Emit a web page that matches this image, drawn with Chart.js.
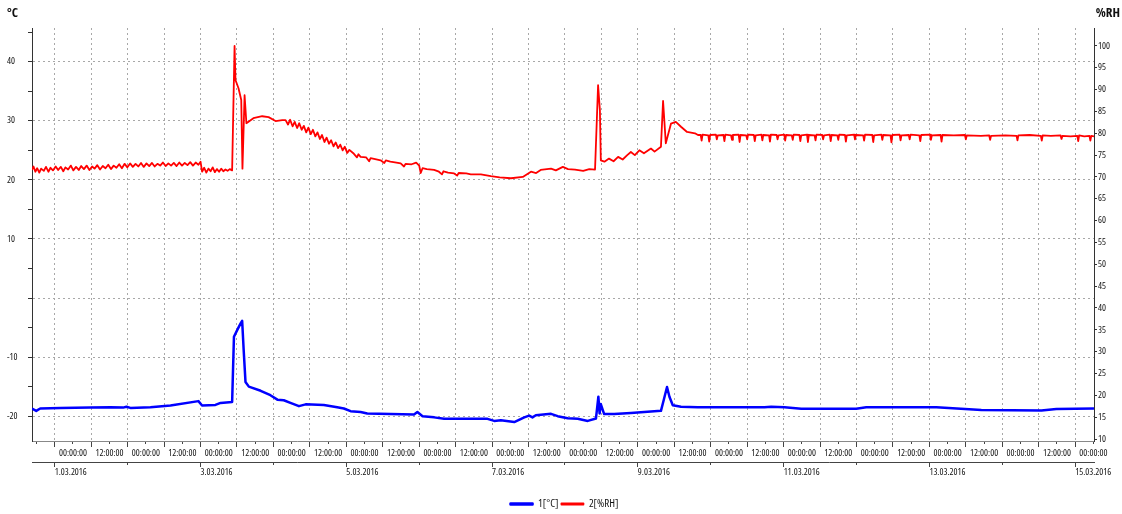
<!DOCTYPE html>
<html>
<head>
<meta charset="utf-8">
<script src="https://cdn.jsdelivr.net/npm/chart.js@4.4.0/dist/chart.umd.min.js"></script>
<style>
  html, body { margin: 0; padding: 0; background: #fff; }
  canvas { display: block; }
</style>
</head>
<body>
<canvas id="logChart" width="1122" height="514"></canvas>
<script>
// Open Sans is a variable font here, so "condensed" gives a narrow face close to the logger's Arial Narrow
const FONT = "'Open Sans', 'Liberation Sans', sans-serif";

// hours counted from 1.03.2016 00:00:00
const tempHours = [-7.5, -6.1, -4.8, 1.8, 11.7, 18.3, 22.5, 23.6, 24.9, 31.5, 38.1, 47.3, 48.5, 52.9, 54.6, 58.4,
  59.0, 60.1, 61.2, 61.7, 62.2, 62.8, 63.9, 67.8, 71.0, 73.3, 75.4, 77.6, 80.4, 82.6, 88.6, 93.0, 95.2, 97.4,
  100.7, 102.9, 118.3, 119.4, 121.1, 124.9, 128.2, 142.5, 144.7, 146.9, 151.3, 154.6, 156.2, 157.3, 158.4,
  163.4, 165.6, 168.9, 172.2, 175.5, 178.2, 179.0, 179.4, 179.8, 180.9, 184.2, 189.7, 199.6, 200.5, 201.6,
  202.4, 203.5, 206.2, 211.7, 233.7, 235.9, 240.3, 245.8, 263.9, 267.2, 290.3, 305.1, 324.9, 329.8, 342.2];
const tempValues = [-18.7, -19.1, -18.7, -18.6, -18.55, -18.5, -18.55, -18.4, -18.6, -18.5, -18.2, -17.45, -18.2, -18.1, -17.75, -17.6,
  -6.55, -5.4, -4.3, -3.85, -8.8, -14.2, -15.0, -15.7, -16.45, -17.2, -17.3, -17.75, -18.3, -18.0, -18.1, -18.5, -18.7, -19.15,
  -19.3, -19.55, -19.7, -19.3, -20.0, -20.2, -20.45, -20.45, -20.8, -20.7, -21.0, -20.2, -19.9, -20.2, -19.85,
  -19.6, -20.0, -20.35, -20.45, -20.8, -20.4, -16.7, -19.55, -17.95, -19.65, -19.65, -19.45, -19.1, -17.3, -15.05,
  -16.7, -18.15, -18.4, -18.5, -18.5, -18.4, -18.5, -18.75, -18.75, -18.5, -18.5, -18.95, -19.05, -18.8, -18.7];

const rhHours = [-7.5, -7.0, -6.4, -5.8, -5.1, -4.5, -3.6, -2.9, -2.1, -1.4, -0.6, 0.3, 1.1, 2.0, 2.8, 3.5, 4.4, 5.3,
  6.1, 7.0, 7.9, 8.7, 9.6, 10.5, 11.4, 12.3, 13.1, 14.0, 14.9, 15.8, 16.7, 17.6, 18.5, 19.4, 20.3, 21.2, 22.1, 23.0,
  23.9, 24.8, 25.7, 26.6, 27.5, 28.4, 29.3, 30.2, 31.1, 32.0, 32.9, 33.8, 34.7, 35.6, 36.5, 37.4, 38.3, 39.2, 40.1,
  41.0, 41.9, 42.8, 43.7, 44.6, 45.5, 46.4, 47.3, 48.0, 48.5, 49.2, 49.9, 50.6, 51.3, 52.0, 52.7, 53.4, 54.1, 54.8,
  55.5, 56.2, 56.9, 57.6, 58.4, 59.2, 59.5, 60.5, 61.4, 61.8, 62.5, 63.1, 65.4, 68.3, 70.4, 72.7, 74.9, 76.0,
  76.8, 77.5, 78.3, 79.0, 79.8, 80.5, 81.3, 82.0, 82.8, 83.5, 84.3, 85.0, 85.8, 86.5, 87.3, 88.0, 88.8, 89.5, 90.3,
  91.0, 91.8, 92.5, 93.3, 94.0, 94.8, 95.5, 96.3, 97.0, 98.5, 99.5, 100.0, 100.7, 102.5, 103.5, 104.0, 105.5, 107.3,
  108.5, 109.0, 110.5, 112.5, 113.9, 115.0, 115.5, 117.5, 119.0, 120.0, 120.5, 121.1, 122.5, 124.9, 126.5, 127.5,
  128.0, 129.5, 131.5, 132.5, 133.0, 135.5, 137.0, 140.3, 143.6, 146.5, 150.2, 154.1, 156.8, 158.5, 160.0, 163.4,
  165.0, 167.3, 169.0, 171.3, 174.0, 176.0, 177.9, 178.9, 179.5, 179.8, 181.0, 182.5, 184.0, 185.5, 187.0, 188.5,
  189.7, 191.0, 192.5, 194.0, 196.3, 197.5, 199.6, 200.3, 201.2, 202.9, 204.5, 206.2, 208.2, 210.8, 211.8,
  212.7, 213.0, 213.3, 215.2, 215.5, 215.8, 217.7, 218.0, 218.3, 220.2, 220.5, 220.8, 222.7, 223.0, 223.3,
  225.2, 225.5, 225.8, 227.7, 228.0, 228.3, 230.2, 230.5, 230.8, 232.7, 233.0, 233.3, 235.2, 235.5, 235.8,
  237.7, 238.0, 238.3, 240.2, 240.5, 240.8, 242.7, 243.0, 243.3, 245.2, 245.5, 245.8, 247.7, 248.0, 248.3,
  250.2, 250.5, 250.8, 252.7, 253.0, 253.3, 255.2, 255.5, 255.8, 257.7, 258.0, 258.3, 260.2, 260.5, 260.8,
  263.2, 263.5, 263.8, 266.2, 266.5, 266.8, 269.2, 269.5, 269.8, 272.2, 272.5, 272.8, 275.2, 275.5, 275.8,
  278.2, 278.5, 278.8, 281.2, 281.5, 281.8, 284.7, 285.0, 285.3, 288.2, 288.5, 288.8, 291.7, 292.0, 292.3,
  296.0, 299.7, 300.0, 300.3, 305.0, 307.7, 308.0, 308.3, 313.0, 316.7, 317.0, 317.3, 321.0, 324.7, 325.0, 325.3,
  328.0, 331.2, 331.5, 331.8, 334.5, 336.7, 337.0, 337.3, 339.0, 340.7, 341.0, 341.3, 342.2];
const rhValues = [71.6, 72.4, 71.2, 72.0, 71.0, 71.9, 71.4, 72.3, 71.2, 72.1, 71.5, 72.4, 71.6, 72.3, 71.3, 72.2, 71.7, 72.6,
  71.5, 72.3, 71.6, 72.5, 71.8, 72.6, 71.6, 72.4, 71.9, 72.7, 71.7, 72.5, 72.0, 72.8, 71.8, 72.6, 72.1, 72.9, 72.0, 73.0,
  72.2, 73.1, 72.3, 73.0, 72.4, 73.2, 72.3, 73.1, 72.5, 73.2, 72.4, 73.0, 72.6, 73.3, 72.5, 73.1, 72.6, 73.2, 72.5,
  73.3, 72.6, 73.2, 72.7, 73.4, 72.6, 73.3, 72.8, 73.5, 71.2, 72.1, 71.0, 71.9, 71.3, 72.2, 71.1, 71.8, 71.2, 71.9,
  71.3, 71.7, 71.4, 71.8, 71.5, 100.0, 92.2, 90.3, 87.6, 71.9, 88.7, 82.3, 83.45, 83.9, 83.7, 82.8, 83.0, 83.0,
  82.0, 83.1, 81.6, 82.6, 81.2, 82.3, 80.8, 81.7, 80.2, 81.3, 79.8, 80.8, 79.3, 80.2, 78.7, 79.6, 78.0, 79.0, 77.6,
  78.4, 77.0, 77.9, 76.6, 77.4, 76.1, 76.9, 75.5, 76.2, 75.3, 74.5, 75.2, 74.6, 74.5, 73.6, 74.3, 74.1, 73.8,
  73.2, 73.8, 73.5, 73.3, 73.1, 72.4, 73.0, 72.9, 73.3, 72.6, 70.9, 72.0, 71.8, 71.6, 71.2, 70.6,
  71.3, 71.0, 70.8, 70.3, 70.9, 70.8, 70.6, 70.6, 70.2, 69.9, 69.7, 70.0, 71.2, 70.9, 71.6, 71.9,
  71.5, 72.3, 71.8, 71.7, 71.4, 71.8, 71.7, 91.0, 85.3, 73.8, 73.5, 74.2, 73.6, 74.6, 74.0, 75.0,
  75.7, 75.0, 76.1, 75.4, 76.5, 75.8, 76.9, 87.4, 77.7, 82.2, 82.6, 81.5, 80.3, 80.0, 79.6,
  79.6, 78.3, 79.7, 79.5, 78.1, 79.6, 79.7, 78.6, 79.5, 79.6, 78.2, 79.7, 79.5, 78.5, 79.6,
  79.7, 78.0, 79.6, 79.5, 78.6, 79.7, 79.6, 78.2, 79.5, 79.7, 78.4, 79.6, 79.5, 78.1, 79.7,
  79.6, 78.6, 79.5, 79.7, 78.3, 79.6, 79.5, 78.5, 79.7, 79.6, 78.2, 79.5, 79.7, 78.0, 79.6,
  79.5, 78.4, 79.7, 79.6, 78.6, 79.5, 79.7, 78.2, 79.6, 79.5, 78.5, 79.7, 79.6, 78.1, 79.5,
  79.7, 78.6, 79.6, 79.5, 78.3, 79.7, 79.6, 78.0, 79.5, 79.7, 78.5, 79.6, 79.5, 77.9, 79.6,
  79.7, 78.4, 79.5, 79.6, 78.6, 79.7, 79.5, 78.2, 79.6, 79.7, 78.5, 79.5, 79.6, 78.1, 79.6,
  79.5, 79.6, 78.6, 79.5, 79.4, 79.5, 78.5, 79.4, 79.5, 79.4, 78.4, 79.5, 79.6, 79.4, 78.3, 79.5,
  79.4, 79.5, 78.7, 79.4, 79.3, 79.4, 78.2, 79.5, 79.3, 79.4, 78.3, 79.4, 79.3];

const seriesLabels = ['1[°C]', '2[%RH]'];
const seriesColors = ['#0000ff', '#ff0000'];
const timeTickLabels = ['00:00:00', '12:00:00'];
const dateTickHours = [0, 48, 96, 144, 192, 240, 288, 336];
const dateTickLabels = ['1.03.2016', '3.03.2016', '5.03.2016', '7.03.2016', '9.03.2016', '11.03.2016', '13.03.2016', '15.03.2016'];
const tempTickLabels = [40, 30, 20, 10, -10, -20];   // 0 is left blank in the original printout

Chart.defaults.font.family = FONT;
Chart.defaults.font.size = 9.4;
Chart.defaults.font.weight = 'condensed';
Chart.defaults.color = '#111';

const toPoints = (xs, ys) => xs.map((x, i) => ({ x: x, y: ys[i] }));

const unitTitles = {
  id: 'unitTitles',
  afterDraw(chart) {
    const { ctx, chartArea } = chart;
    ctx.save();
    ctx.font = 'bold condensed 13px ' + FONT;
    ctx.fillStyle = '#111';
    ctx.textBaseline = 'middle';
    ctx.textAlign = 'left';
    ctx.fillText('°C', 7, chartArea.top - 15);
    ctx.textAlign = 'right';
    ctx.fillText('%RH', chart.width - 2, chartArea.top - 15);
    ctx.restore();
  }
};

const gridGrey = '#a8a8a8';

new Chart(document.getElementById('logChart'), {
  type: 'line',
  data: {
    datasets: [
      {
        label: seriesLabels[0],
        data: toPoints(tempHours, tempValues),
        yAxisID: 'y',
        borderColor: seriesColors[0],
        backgroundColor: seriesColors[0],
        borderWidth: 2.5,
        borderJoinStyle: 'round',
        pointRadius: 0,
        tension: 0
      },
      {
        label: seriesLabels[1],
        data: toPoints(rhHours, rhValues),
        yAxisID: 'y1',
        borderColor: seriesColors[1],
        backgroundColor: seriesColors[1],
        borderWidth: 1.8,
        borderJoinStyle: 'round',
        pointRadius: 0,
        tension: 0
      }
    ]
  },
  options: {
    responsive: false,
    animation: false,
    devicePixelRatio: 1,
    layout: { padding: { left: 7, right: 0, top: 28, bottom: -5.5 } },
    plugins: {
      tooltip: { enabled: false },
      legend: {
        position: 'bottom',
        labels: { boxWidth: 22, boxHeight: 1, padding: 3, font: { size: 11 }, color: '#111' }
      }
    },
    scales: {
      x: {
        type: 'linear',
        position: 'bottom',
        min: -7.5,
        max: 342.2,
        afterFit: s => { s.height = 21; },
        border: { color: '#888', dash: [2, 3] },
        grid: {
          color: c => (c.tick && c.tick.value % 12 === 0) ? gridGrey : 'transparent',
          tickColor: '#444',
          tickLength: 6,
          tickBorderDash: c => (c.tick && c.tick.value % 12 === 0) ? [] : [2, 40]
        },
        ticks: {
          stepSize: 6,
          includeBounds: false,
          autoSkip: false,
          maxRotation: 0,
          minRotation: 0,
          padding: 1,
          callback: v => (v > 0 && v % 12 === 6) ? timeTickLabels[((v - 6) % 24) / 12] : ''
        }
      },
      x2: {
        type: 'linear',
        position: 'bottom',
        min: -7.5,
        max: 342.2,
        afterFit: s => { s.height = 33.5; },
        border: { color: '#444' },
        grid: {
          drawOnChartArea: false,
          color: 'transparent',
          tickColor: '#444',
          tickLength: 5,
          tickBorderDash: c => (c.tick && dateTickHours.includes(c.tick.value)) ? [] : [2, 40]
        },
        ticks: {
          stepSize: 24,
          includeBounds: false,
          autoSkip: false,
          maxRotation: 0,
          minRotation: 0,
          align: 'start',
          padding: 0,
          callback: v => {
            const i = dateTickHours.indexOf(v);
            return i >= 0 ? dateTickLabels[i] : '';
          }
        }
      },
      y: {
        type: 'linear',
        position: 'left',
        min: -24.2,
        max: 45.7,
        afterFit: s => { s.width = 25; },
        border: { color: '#333', dash: [2, 3] },
        grid: {
          color: c => (c.tick && c.tick.value % 10 === 0) ? gridGrey : 'transparent',
          tickColor: '#333',
          tickLength: 4,
          tickBorderDash: []
        },
        ticks: {
          stepSize: 5,
          includeBounds: false,
          crossAlign: 'far',
          callback: v => tempTickLabels.includes(v) ? String(v) : ''
        }
      },
      y1: {
        type: 'linear',
        position: 'right',
        min: 9.55,
        max: 104.1,
        afterFit: s => { s.width = 28; },
        border: { color: '#333' },
        grid: {
          drawOnChartArea: false,
          color: 'transparent',
          tickColor: '#333',
          tickLength: 3
        },
        ticks: {
          stepSize: 2.5,
          includeBounds: false,
          padding: 1,
          callback: v => (v % 5 === 0) ? String(v) : ''
        }
      }
    }
  },
  plugins: [unitTitles]
});
</script>
</body>
</html>
